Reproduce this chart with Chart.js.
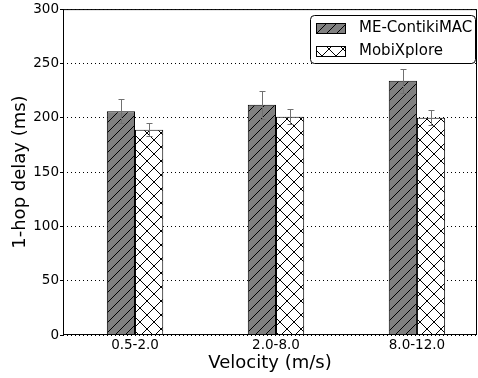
<!DOCTYPE html>
<html><head><meta charset="utf-8">
<script src="https://cdn.jsdelivr.net/npm/chart.js@4"></script>
<style>html,body{margin:0;padding:0;background:#fff}#wrap{width:478px;height:378px}</style>
</head><body><div id="wrap"><canvas id="c" width="478" height="378"></canvas></div>
<script>
const categories = ['0.5-2.0', '2.0-8.0', '8.0-12.0'];
const seriesNames = ['ME-ContikiMAC', 'MobiXplore'];
const meValues = [206, 212, 234];
const meErrors = [11, 13, 11];
const mxValues = [189, 201, 200];
const mxErrors = [6, 7, 7];
const yTicks = [0, 50, 100, 150, 200, 250, 300];

const FONT = 'DejaVu Sans';

function diagPattern(bg, s) {
  const c = document.createElement('canvas'); c.width = s; c.height = s;
  const g = c.getContext('2d');
  g.fillStyle = bg; g.fillRect(0, 0, s, s);
  g.strokeStyle = '#000'; g.lineWidth = 1;
  g.beginPath();
  g.moveTo(-1, s + 1); g.lineTo(s + 1, -1);
  g.moveTo(-2, 2); g.lineTo(2, -2);
  g.moveTo(s - 2, s + 2); g.lineTo(s + 2, s - 2);
  g.stroke();
  return g.createPattern(c, 'repeat');
}
function crossPattern(bg, s) {
  const c = document.createElement('canvas'); c.width = s; c.height = s;
  const g = c.getContext('2d');
  g.fillStyle = bg; g.fillRect(0, 0, s, s);
  g.strokeStyle = '#000'; g.lineWidth = 1;
  g.beginPath();
  g.moveTo(-1, -1); g.lineTo(s + 1, s + 1);
  g.moveTo(-1, s + 1); g.lineTo(s + 1, -1);
  g.stroke();
  return g.createPattern(c, 'repeat');
}
const mePat = diagPattern('#808080', 10);
const mxPat = crossPattern('#ffffff', 14);

const errors = [meErrors, mxErrors];

const framePlugin = {
  id: 'frame',
  afterDatasetsDraw(chart) {
    const { ctx, chartArea: a, scales } = chart;
    const y = scales.y;
    ctx.save();
    // error bars
    ctx.strokeStyle = '#707070'; ctx.lineWidth = 1;
    chart.data.datasets.forEach((ds, di) => {
      const meta = chart.getDatasetMeta(di);
      meta.data.forEach((el, i) => {
        const v = ds.data[i].y, e = errors[di][i];
        const x = Math.round(el.x) + 0.5;
        const yt = Math.round(y.getPixelForValue(v + e)) + 0.5;
        const yb = Math.round(y.getPixelForValue(v - e)) + 0.5;
        ctx.beginPath();
        ctx.moveTo(x, yt); ctx.lineTo(x, yb);
        ctx.moveTo(x - 3, yt); ctx.lineTo(x + 3, yt);
        ctx.moveTo(x - 3, yb); ctx.lineTo(x + 3, yb);
        ctx.stroke();
      });
    });
    // frame
    ctx.strokeStyle = '#000'; ctx.lineWidth = 1;
    ctx.strokeRect(a.left + 0.5, a.top + 0.5, a.width - 1, a.height - 1);
    // legend
    const bx = 310.5, by = 15.5, bw = 165, bh = 48, r = 4;
    ctx.beginPath();
    ctx.moveTo(bx + r, by);
    ctx.lineTo(bx + bw - r, by); ctx.arcTo(bx + bw, by, bx + bw, by + r, r);
    ctx.lineTo(bx + bw, by + bh - r); ctx.arcTo(bx + bw, by + bh, bx + bw - r, by + bh, r);
    ctx.lineTo(bx + r, by + bh); ctx.arcTo(bx, by + bh, bx, by + bh - r, r);
    ctx.lineTo(bx, by + r); ctx.arcTo(bx, by, bx + r, by, r);
    ctx.closePath();
    ctx.fillStyle = '#fff'; ctx.fill();
    ctx.strokeStyle = '#000'; ctx.stroke();
    ctx.font = '15px "' + FONT + '"';
    ctx.textBaseline = 'middle'; ctx.textAlign = 'left';
    chart.data.datasets.forEach((ds, di) => {
      const sy = 23 + di * 23;
      ctx.fillStyle = ds.backgroundColor;
      ctx.fillRect(316, sy, 30, 10);
      ctx.strokeStyle = '#000';
      ctx.strokeRect(316.5, sy + 0.5, 29, 10);
      ctx.fillStyle = '#000';
      ctx.fillText(ds.label, 359, sy + 5.5);
    });
    ctx.restore();
  }
};

new Chart(document.getElementById('c'), {
  type: 'bar',
  data: {
    datasets: [
      { label: seriesNames[0], data: meValues.map((v, i) => ({ x: i, y: v })),
        backgroundColor: mePat, borderColor: '#000', borderWidth: 1 },
      { label: seriesNames[1], data: mxValues.map((v, i) => ({ x: i, y: v })),
        backgroundColor: mxPat, borderColor: '#000', borderWidth: 1 }
    ]
  },
  options: {
    responsive: false,
    animation: false,
    devicePixelRatio: 1,
    categoryPercentage: 0.4,
    barPercentage: 1.0,
    layout: { padding: { top: 8, right: 1, left: 0, bottom: 0 } },
    plugins: { legend: { display: false }, tooltip: { enabled: false } },
    scales: {
      x: {
        type: 'linear', min: -0.511, max: 2.426, offset: false,
        afterBuildTicks(axis) { axis.ticks = categories.map((c, i) => ({ value: i })); },
        afterFit(axis) { axis.height = 43; },
        grid: { display: false, drawTicks: false },
        border: { display: false },
        ticks: { color: '#000', padding: 2, font: { family: FONT, size: 13.5 },
          callback: (v) => categories[v] },
        title: { display: true, text: 'Velocity (m/s)', color: '#000',
          font: { family: FONT, size: 18 }, padding: { top: 0, bottom: 4 } }
      },
      y: {
        min: 0, max: 300,
        afterBuildTicks(axis) { axis.ticks = yTicks.map(v => ({ value: v })); },
        afterFit(axis) { axis.width = 63; },
        grid: { color: '#000', lineWidth: 1, tickLength: 3, tickColor: '#000', tickBorderDash: [] },
        border: { display: false, dash: [1, 3] },
        ticks: { color: '#000', padding: 1, font: { family: FONT, size: 13.5 } },
        title: { display: true, text: '1-hop delay (ms)', color: '#000',
          font: { family: FONT, size: 18 }, padding: { top: 10, bottom: 0 } }
      }
    }
  },
  plugins: [framePlugin]
});
</script>
</body></html>
